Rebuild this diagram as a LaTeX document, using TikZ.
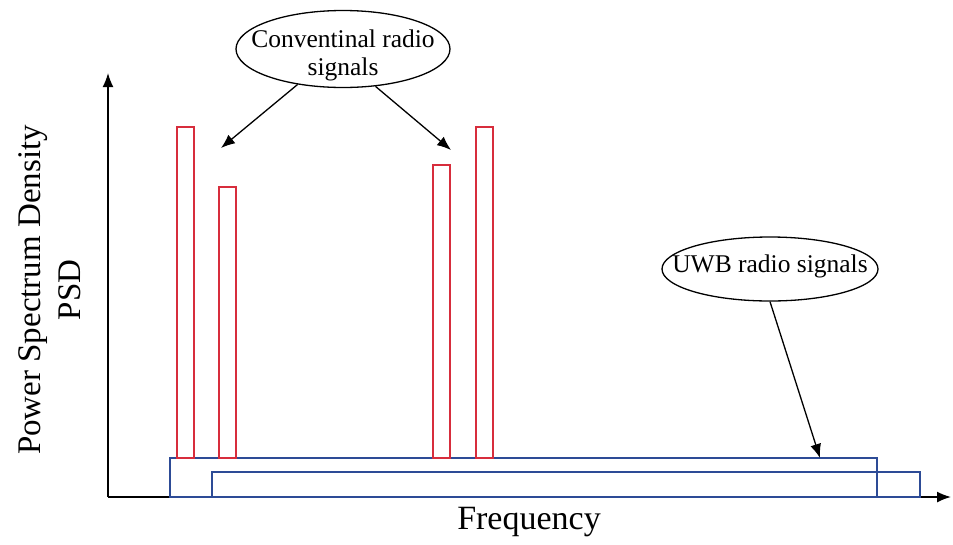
\documentclass[tikz,border=0pt]{standalone}
\usepackage{fontspec}
\setmainfont{Liberation Serif}
\usetikzlibrary{shapes.geometric,arrows.meta}
\definecolor{barred}{RGB}{215,45,60}
\definecolor{bandblue}{RGB}{45,75,150}
\tikzset{
  axis/.style={line width=1.6pt,-{Latex[length=14pt,width=11pt]}},
  pointer/.style={line width=1.3pt,-{Latex[length=14pt,width=11pt]}},
  bar/.style={draw=barred,line width=1.4pt},
  band/.style={draw=bandblue,line width=1.4pt},
  bubble/.style={ellipse,draw,line width=1.3pt,inner sep=0pt},
  bubbletext/.style={align=center,inner sep=0pt,font=\fontsize{25.5}{28}\selectfont}
}
\begin{document}
\begin{tikzpicture}[x=1pt,y=-1pt]
\useasboundingbox (0,0) rectangle (953,544);
% axes
\coordinate (origin) at (108,497);
\coordinate (ytip) at (108,73);
\coordinate (xtip) at (951,497);
\draw[axis] (origin) -- (ytip);
\draw[axis] (origin) -- (xtip);
% UWB bands
\draw[band] (170,497) rectangle (877,458);
\draw[band] (212,497) rectangle (920,472);
% conventional narrowband signals
\draw[bar] (177,458) rectangle (194,127);
\draw[bar] (219,458) rectangle (236,187);
\draw[bar] (433,458) rectangle (450,165);
\draw[bar] (476,458) rectangle (493,127);
% callout bubbles
\node[bubble,minimum width=214pt,minimum height=77pt] (conv) at (343,49) {};
\node[bubbletext,yshift=-6pt] (convtext) at (conv.center) {Conventinal radio\\signals};
\node[bubble,minimum width=216pt,minimum height=64pt] (uwb) at (770,269) {};
\node[bubbletext,yshift=3pt] (uwbtext) at (uwb.center) {UWB radio signals};
\coordinate (convA) at (221,148);
\coordinate (convB) at (451,150);
\coordinate (uwbT) at (820,458);
\draw[pointer] (conv.218) -- (convA);
\draw[pointer] (conv.-49) -- (convB);
\draw[pointer] (uwb.-90) -- (uwbT);
% axis labels
\node[font=\fontsize{34}{36}\selectfont] (xlab) at (529,522) {Frequency};
\node[rotate=90,align=center,font=\fontsize{33}{40}\selectfont] (ylab) at (50,290) {Power Spectrum Density\\PSD};
\end{tikzpicture}
\end{document}
